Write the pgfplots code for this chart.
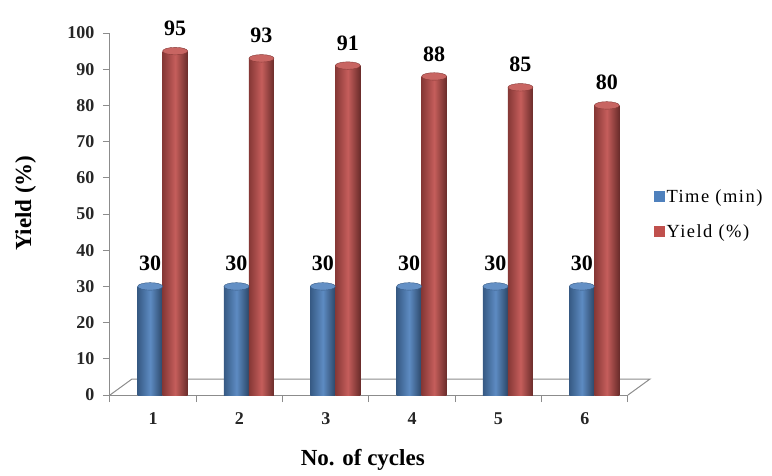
\documentclass[border=0pt]{standalone}
\usepackage{pgfplots}
\pgfplotsset{compat=1.18}
\usepackage{fontspec}
\setmainfont{Liberation Serif}
\definecolor{bl}{HTML}{4F81BD}
\definecolor{rd}{HTML}{C0504D}
\definecolor{axgray}{HTML}{8C8C8C}
\pgfplotsset{
  bluebar/.style={ybar, bar width=25pt, bar shift=-3pt, draw=none,
    left color=bl!70!black, right color=bl!55!black, middle color=bl!92!white,
    nodes near coords, every node near coord/.append style={xshift=-3pt}, forget plot},
  redbar/.style={ybar, bar width=25pt, bar shift=22pt, draw=none,
    left color=rd!70!black, right color=rd!55!black, middle color=rd!92!white,
    nodes near coords, every node near coord/.append style={xshift=22pt}, forget plot},
}
\begin{document}
\begin{tikzpicture}[x=1pt,y=1pt]
\useasboundingbox (0,0) rectangle (772,475);
\begin{axis}[
  at={(110pt,80pt)}, anchor=south west,
  scale only axis, width=518pt, height=362pt,
  xmin=0.5, xmax=6.5, ymin=0, ymax=100,
  clip=false,
  axis x line*=bottom, axis y line*=left,
  axis line style={axgray, line width=1pt},
  tick style={axgray, line width=1pt},
  tick align=outside,
  major tick length=7pt,
  xtick={0.5,1.5,...,6.5}, xticklabels={},
  extra x ticks={1,2,3,4,5,6},
  extra x tick style={major tick length=0pt, tick style={draw=none}},
  ytick={0,10,...,100},
  /pgf/number format/assume math mode=true,
  ticklabel style={font=\fontsize{18}{20}\selectfont\bfseries, text=black!85},
  yticklabel style={xshift=-5pt},
  xticklabel style={yshift=-14pt},
  xlabel={No. of cycles},
  xlabel style={at={(axis description cs:0.488,-0.18)}, anchor=center, font=\fontsize{23}{26}\selectfont\bfseries},
  ylabel={Yield (\%)},
  ylabel style={at={(axis description cs:-0.163,0.53)}, anchor=center, font=\fontsize{23}{26}\selectfont\bfseries},
  legend style={at={(axis description cs:1.05,0.5)}, anchor=west, draw=none, fill=none,
    font=\fontsize{18.5}{20}\selectfont\addfontfeatures{LetterSpace=8}, row sep=17pt, inner sep=0pt},
  legend cell align=left,
  nodes near coords style={font=\fontsize{22}{24}\selectfont\bfseries, anchor=south, inner sep=0pt, yshift=15pt, text=black},
]
\draw[axgray, line width=1pt] (axis cs:0.5,0) -- (axis cs:0.755,4.42) -- (axis cs:6.755,4.42) -- (axis cs:6.5,0);
% Time (min)
\addplot[bluebar] coordinates {(1,30)};
\addplot[bluebar] coordinates {(2,30)};
\addplot[bluebar] coordinates {(3,30)};
\addplot[bluebar] coordinates {(4,30)};
\addplot[bluebar] coordinates {(5,30)};
\addplot[bluebar] coordinates {(6,30)};
\addplot[only marks, mark=*, mark size=12.5pt,
  mark options={xshift=-3pt, yscale=0.3, fill=bl!88!white, draw=bl!70!black}, forget plot]
  coordinates {(1,30) (2,30) (3,30) (4,30) (5,30) (6,30)};
% Yield (%)
\addplot[redbar] coordinates {(1,95)};
\addplot[redbar] coordinates {(2,93)};
\addplot[redbar] coordinates {(3,91)};
\addplot[redbar] coordinates {(4,88)};
\addplot[redbar] coordinates {(5,85)};
\addplot[redbar] coordinates {(6,80)};
\addplot[only marks, mark=*, mark size=12.5pt,
  mark options={xshift=22pt, yscale=0.3, fill=rd!88!white, draw=rd!70!black}, forget plot]
  coordinates {(1,95) (2,93) (3,91) (4,88) (5,85) (6,80)};
\addlegendimage{legend image code/.code={\fill[bl] (0pt,-5pt) rectangle (10pt,5pt);}}
\addlegendentry{Time (min)}
\addlegendimage{legend image code/.code={\fill[rd] (0pt,-5pt) rectangle (10pt,5pt);}}
\addlegendentry{Yield (\%)}
\end{axis}
\end{tikzpicture}
\end{document}
